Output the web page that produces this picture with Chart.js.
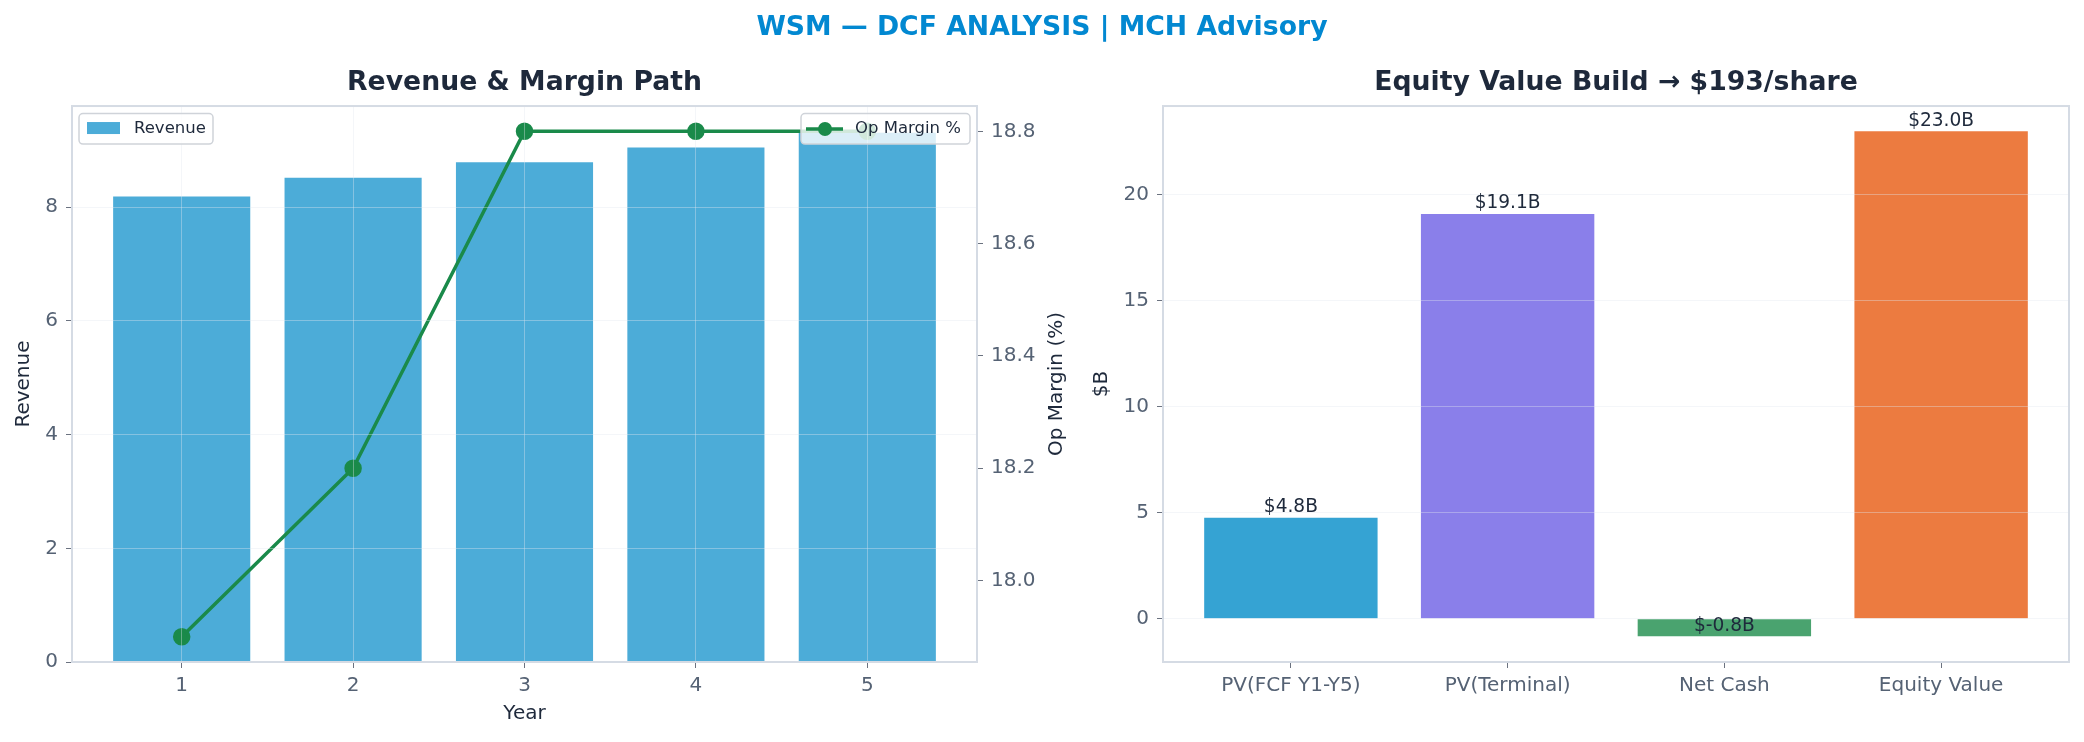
<!DOCTYPE html>
<html>
<head>
<meta charset="utf-8">
<script src="https://cdn.jsdelivr.net/npm/chart.js@4.4.1/dist/chart.umd.min.js"></script>
<style>
  body { margin: 0; background: #fff; width: 2084px; height: 742px; overflow: hidden; position: relative; }
  #mainTitle {
    position: absolute; top: 0; left: 0; width: 2084px; height: 52px; line-height: 52px;
    text-align: center; font-family: "DejaVu Sans", sans-serif; font-weight: bold;
    font-size: 26.7px; color: #0288d1; z-index: 2;
  }
  #leftChart { position: absolute; left: 0; top: 0; }
  #rightChart { position: absolute; left: 1080px; top: 0; }
</style>
</head>
<body>
<div id="mainTitle">WSM — DCF ANALYSIS | MCH Advisory</div>
<canvas id="leftChart" width="1075" height="742"></canvas>
<canvas id="rightChart" width="1004" height="742"></canvas>
<script>
// data
const years = [1, 2, 3, 4, 5];
const revenue = [8.19, 8.52, 8.79, 9.05, 9.31];
const opMargin = [17.9, 18.2, 18.8, 18.8, 18.8];
const revenueTicks = [0, 2, 4, 6, 8];
const marginTicks = [18.0, 18.2, 18.4, 18.6, 18.8];

const buildLabels = ['PV(FCF Y1-Y5)', 'PV(Terminal)', 'Net Cash', 'Equity Value'];
const buildValues = [4.76, 19.1, -0.82, 23.0];
const buildColors = ['#35a3d3', '#8a7fea', '#4aa36f', '#ec7b40'];
const buildTicks = [0, 5, 10, 15, 20];

const tickColor = '#556274';
const darkText = '#1e293b';
const gridColor = 'rgba(226, 232, 240, 0.38)';
const spineColor = '#d5dbe4';

Chart.defaults.font.family = '"DejaVu Sans", sans-serif';
Chart.defaults.animation = false;

function fixTicks(list) {
    return function(scale) {
        scale.ticks = list.map(v => ({ value: v }));
    };
}

function fitWidth(w) {
    return function(scale) {
        scale.width = w;
        scale.paddingTop = 0;
        scale.paddingBottom = 0;
    };
}

function fitHeight(h) {
    return function(scale) {
        scale.height = h;
        scale.paddingLeft = 0;
        scale.paddingRight = 0;
    };
}

function drawFrame(chart) {
    const a = chart.chartArea;
    const ctx = chart.ctx;
    ctx.save();
    ctx.strokeStyle = spineColor;
    ctx.lineWidth = 2;
    ctx.strokeRect(a.left, a.top, a.right - a.left, a.bottom - a.top);
    ctx.restore();
}

function legendBox(ctx, x, y, w, h) {
    ctx.beginPath();
    ctx.roundRect(x, y, w, h, 4);
    ctx.fillStyle = 'rgba(255, 255, 255, 0.8)';
    ctx.fill();
    ctx.strokeStyle = '#cfd3d9';
    ctx.lineWidth = 1.5;
    ctx.stroke();
}

// frame, right axis title and both legends for the left panel
const leftExtras = {
    id: 'leftExtras',
    afterDraw(chart) {
        drawFrame(chart);
        const a = chart.chartArea;
        const ctx = chart.ctx;
        ctx.save();

        // right axis title reads bottom-to-top like the reference
        ctx.save();
        ctx.translate(chart.scales.y1.right - 18, (a.top + a.bottom) / 2);
        ctx.rotate(-Math.PI / 2);
        ctx.font = '20px "DejaVu Sans"';
        ctx.textAlign = 'center';
        ctx.textBaseline = 'middle';
        ctx.fillStyle = darkText;
        ctx.fillText('Op Margin (%)', 0, 0);
        ctx.restore();

        ctx.font = '16.5px "DejaVu Sans"';
        ctx.textBaseline = 'middle';

        // Revenue legend, top left
        let bx = a.left + 7, by = a.top + 7.5;
        legendBox(ctx, bx, by, 134, 30.5);
        ctx.fillStyle = '#4cacd8';
        ctx.fillRect(bx + 8, by + 8.5, 33, 12);
        ctx.fillStyle = darkText;
        ctx.fillText(chart.data.datasets[1].label, bx + 55, by + 15.5);

        // Op Margin legend, top right
        bx = a.right - 7 - 169;
        legendBox(ctx, bx, by, 169, 30.5);
        ctx.strokeStyle = '#1a8a4a';
        ctx.lineWidth = 3.5;
        ctx.beginPath();
        ctx.moveTo(bx + 5, by + 15.5);
        ctx.lineTo(bx + 42, by + 15.5);
        ctx.stroke();
        ctx.fillStyle = '#1a8a4a';
        ctx.beginPath();
        ctx.arc(bx + 24, by + 15.5, 7, 0, Math.PI * 2);
        ctx.fill();
        ctx.fillStyle = darkText;
        ctx.fillText(chart.data.datasets[0].label, bx + 54, by + 15.5);
        ctx.restore();
    }
};

// frame + value labels for the right panel
const rightExtras = {
    id: 'rightExtras',
    afterDraw(chart) {
        drawFrame(chart);
        const ctx = chart.ctx;
        const meta = chart.getDatasetMeta(0);
        const yScale = chart.scales.y;
        ctx.save();
        ctx.font = '18.6px "DejaVu Sans"';
        ctx.textAlign = 'center';
        ctx.textBaseline = 'bottom';
        ctx.fillStyle = darkText;
        meta.data.forEach((bar, i) => {
            const v = buildValues[i];
            ctx.fillText('$' + v.toFixed(1) + 'B', bar.x, yScale.getPixelForValue(v) - 1);
        });
        ctx.restore();
    }
};

new Chart(document.getElementById('leftChart'), {
    data: {
        datasets: [
            {
                type: 'line',
                label: 'Op Margin %',
                data: years.map((x, i) => ({ x: x, y: opMargin[i] })),
                yAxisID: 'y1',
                borderColor: '#1a8a4a',
                backgroundColor: '#1a8a4a',
                borderWidth: 3.5,
                pointRadius: 7,
                pointHoverRadius: 7,
                order: 0
            },
            {
                type: 'bar',
                label: 'Revenue',
                data: years.map((x, i) => ({ x: x, y: revenue[i] })),
                yAxisID: 'y',
                backgroundColor: '#4cacd8',
                categoryPercentage: 1,
                barPercentage: 0.8,
                order: 1
            }
        ]
    },
    options: {
        responsive: false,
        layout: { padding: 0 },
        plugins: {
            legend: { display: false },
            tooltip: { enabled: false },
            title: {
                display: true,
                text: 'Revenue & Margin Path',
                fullSize: false,
                color: darkText,
                font: { size: 26.7, weight: 'bold' },
                padding: { top: 67, bottom: 7 }
            }
        },
        scales: {
            x: {
                type: 'linear',
                min: 0.36,
                max: 5.64,
                offset: false,
                afterBuildTicks: fixTicks(years),
                afterFit: fitHeight(80),
                ticks: { color: tickColor, font: { size: 20 }, padding: 6, callback: v => String(v) },
                grid: { offset: false, color: gridColor, tickColor: '#6b7280', tickLength: 6, z: 1 },
                border: { display: false },
                title: { display: true, text: 'Year', color: darkText, font: { size: 20 }, padding: { top: 0, bottom: 16 } }
            },
            y: {
                position: 'left',
                min: 0,
                max: 9.78,
                afterBuildTicks: fixTicks(revenueTicks),
                afterFit: fitWidth(72),
                ticks: { color: tickColor, font: { size: 20 }, padding: 8 },
                grid: { color: gridColor, tickColor: '#6b7280', tickLength: 6, z: 1 },
                border: { display: false },
                title: { display: true, text: 'Revenue', color: darkText, font: { size: 20 }, padding: { top: 12, bottom: 0 } }
            },
            y1: {
                position: 'right',
                min: 17.855,
                max: 18.845,
                afterBuildTicks: fixTicks(marginTicks),
                afterFit: fitWidth(98),
                ticks: { color: tickColor, font: { size: 20 }, padding: 8, callback: v => v.toFixed(1) },
                grid: { drawOnChartArea: false, tickColor: '#6b7280', tickLength: 6 },
                border: { display: false }
            }
        }
    },
    plugins: [leftExtras]
});

new Chart(document.getElementById('rightChart'), {
    type: 'bar',
    data: {
        datasets: [{
            label: '$B',
            data: buildValues.map((v, i) => ({ x: i, y: v })),
            backgroundColor: buildColors,
            categoryPercentage: 1,
            barPercentage: 0.8
        }]
    },
    options: {
        responsive: false,
        layout: { padding: { left: 0, right: 15, top: 0, bottom: 0 } },
        plugins: {
            legend: { display: false },
            tooltip: { enabled: false },
            title: {
                display: true,
                text: 'Equity Value Build → $193/share',
                fullSize: false,
                color: darkText,
                font: { size: 26.7, weight: 'bold' },
                padding: { top: 67, bottom: 7 }
            }
        },
        scales: {
            x: {
                type: 'linear',
                min: -0.59,
                max: 3.59,
                offset: false,
                afterBuildTicks: fixTicks(buildLabels.map((_, i) => i)),
                afterFit: fitHeight(80),
                ticks: { color: tickColor, font: { size: 20 }, padding: 6, callback: v => buildLabels[v] },
                grid: { offset: false, drawOnChartArea: false, tickColor: '#6b7280', tickLength: 6 },
                border: { display: false }
            },
            y: {
                min: -2.04,
                max: 24.19,
                afterBuildTicks: fixTicks(buildTicks),
                afterFit: fitWidth(83),
                ticks: { color: tickColor, font: { size: 20 }, padding: 8 },
                grid: { color: gridColor, tickColor: '#6b7280', tickLength: 6, z: 1 },
                border: { display: false },
                title: { display: true, text: '$B', color: darkText, font: { size: 20 }, padding: { top: 10, bottom: 0 } }
            }
        }
    },
    plugins: [rightExtras]
});
</script>
</body>
</html>
